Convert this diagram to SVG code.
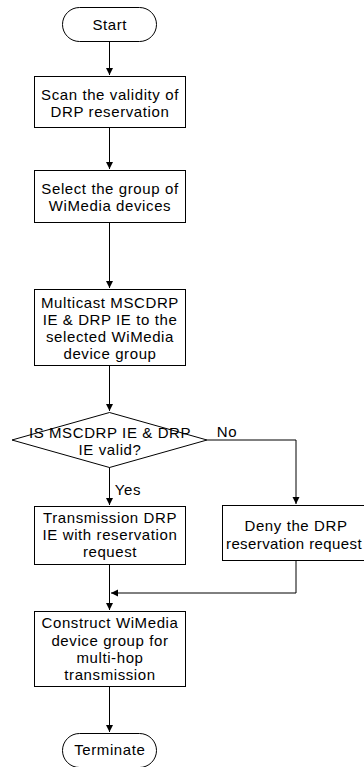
<svg xmlns="http://www.w3.org/2000/svg" width="364" height="767" viewBox="0 0 364 767">
<defs>
<marker id="ah" markerWidth="8" markerHeight="8" refX="7" refY="4" orient="auto" markerUnits="userSpaceOnUse">
<path d="M0,0.5 L7,4 L0,7.5 Z" fill="#000"/>
</marker>
<style>
.n{fill:#fff;stroke:#000;stroke-width:1}
.t{font-family:"Liberation Sans",Arial,sans-serif;font-size:15px;letter-spacing:0.6px;fill:#000;text-anchor:middle;dominant-baseline:central}
.c{fill:none;stroke:#000;stroke-width:1}
</style>
</defs>
<rect width="364" height="767" fill="#fff"/>
<g id="connectors">
<path class="c" d="M109.5,41 V75" marker-end="url(#ah)"/>
<path class="c" d="M109.5,127 V169" marker-end="url(#ah)"/>
<path class="c" d="M109.5,222 V288" marker-end="url(#ah)"/>
<path class="c" d="M109.5,365 V411" marker-end="url(#ah)"/>
<path class="c" d="M109.5,467 V505" marker-end="url(#ah)"/>
<path class="c" d="M207,440 H296 V504" marker-end="url(#ah)"/>
<path class="c" d="M296,560 V593 H111" marker-end="url(#ah)"/>
<path class="c" d="M109.5,564 V610" marker-end="url(#ah)"/>
<path class="c" d="M109.5,686 V732" marker-end="url(#ah)"/>
<text class="t" x="128" y="489">Yes</text>
<text class="t" x="227" y="431">No</text>
</g>
<g id="start">
<rect class="n" x="62.5" y="7.5" width="94" height="34" rx="17"/>
<text class="t" x="109.8" y="24">Start</text>
</g>
<g id="scan">
<rect class="n" x="34.5" y="76.5" width="151" height="51"/>
<text class="t" x="110" y="94">Scan the validity of</text>
<text class="t" x="110" y="111">DRP reservation</text>
</g>
<g id="select">
<rect class="n" x="34.5" y="170.5" width="151" height="52"/>
<text class="t" x="110" y="188">Select the group of</text>
<text class="t" x="110" y="205">WiMedia devices</text>
</g>
<g id="multicast">
<rect class="n" x="34.5" y="289.5" width="151" height="76"/>
<text class="t" x="110" y="302">Multicast MSCDRP</text>
<text class="t" x="110" y="319">IE &amp; DRP IE to the</text>
<text class="t" x="110" y="336">selected WiMedia</text>
<text class="t" x="110" y="353">device group</text>
</g>
<g id="decision">
<polygon class="n" points="109.5,412.5 207,440 109.5,467.5 12,440"/>
<text class="t" x="110" y="432">IS MSCDRP IE &amp; DRP</text>
<text class="t" x="110" y="449">IE valid?</text>
</g>
<g id="transmission">
<rect class="n" x="34.5" y="506.5" width="151" height="58"/>
<text class="t" x="110" y="517">Transmission DRP</text>
<text class="t" x="110" y="534">IE with reservation</text>
<text class="t" x="110" y="551">request</text>
</g>
<g id="deny">
<rect class="n" x="222.5" y="505.5" width="148" height="55"/>
<text class="t" x="296" y="525">Deny the DRP</text>
<text class="t" x="294" y="543" style="letter-spacing:0.4px">reservation request</text>
</g>
<g id="construct">
<rect class="n" x="34.5" y="611.5" width="151" height="75"/>
<text class="t" x="110" y="622">Construct WiMedia</text>
<text class="t" x="110" y="640">device group for</text>
<text class="t" x="110" y="657">multi-hop</text>
<text class="t" x="110" y="674">transmission</text>
</g>
<g id="terminate">
<rect class="n" x="62.5" y="733.5" width="94" height="34" rx="17"/>
<text class="t" x="109.8" y="749">Terminate</text>
</g>
</svg>
